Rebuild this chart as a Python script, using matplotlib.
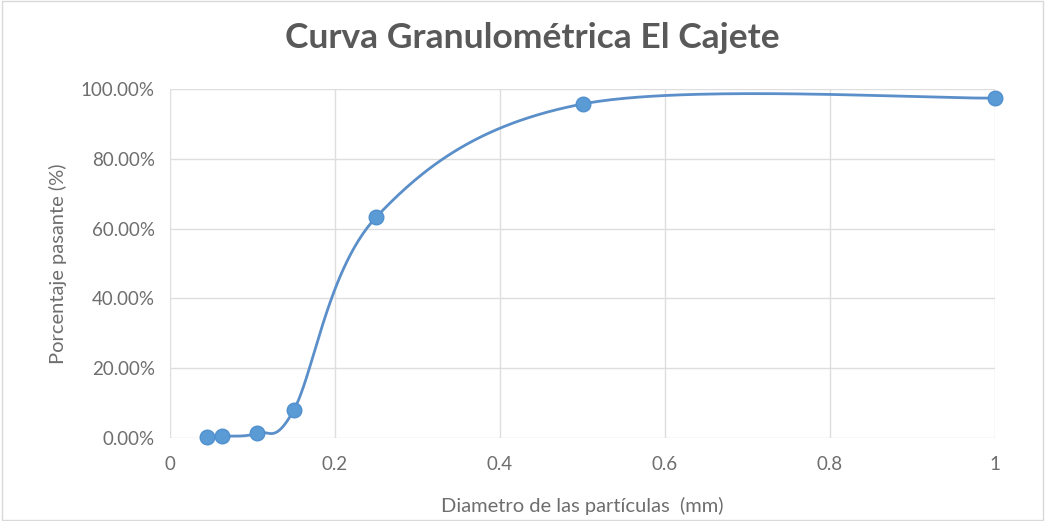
import numpy as np
import matplotlib.pyplot as plt
from matplotlib.ticker import PercentFormatter
from matplotlib.patches import Rectangle

# Sieve openings (mm) and cumulative percent passing
diametro = [0.045, 0.063, 0.106, 0.15, 0.25, 0.5, 1.0]
pasante = [0.003, 0.005, 0.014, 0.08, 0.633, 0.957, 0.974]

x_ticks = [0, 0.2, 0.4, 0.6, 0.8, 1]
x_tick_labels = ['0', '0.2', '0.4', '0.6', '0.8', '1']
y_ticks = [0, 0.2, 0.4, 0.6, 0.8, 1.0]


def smooth_line(xs, ys, n=60):
    # spreadsheet-style smoothed line: cubic Bezier segments with
    # control points taken from the neighbouring points
    pts = np.column_stack([xs, ys]).astype(float)
    out = []
    for i in range(len(pts) - 1):
        p0 = pts[i - 1] if i > 0 else pts[i]
        p1, p2 = pts[i], pts[i + 1]
        p3 = pts[i + 2] if i + 2 < len(pts) else pts[i + 1]
        c1 = p1 + (p2 - p0) / 6
        c2 = p2 - (p3 - p1) / 6
        t = np.linspace(0, 1, n)[:, None]
        seg = ((1 - t) ** 3) * p1 + 3 * ((1 - t) ** 2) * t * c1 \
            + 3 * (1 - t) * t ** 2 * c2 + t ** 3 * p2
        out.append(seg)
    curve = np.vstack(out)
    return curve[:, 0], curve[:, 1]


plt.rcParams['font.family'] = ['Lato', 'DejaVu Sans']

fig = plt.figure(figsize=(10.45, 5.21), dpi=100)
fig.patches.append(Rectangle((0.002, 0.002), 0.996, 0.996, transform=fig.transFigure,
                             fill=False, edgecolor='#D9D9D9', linewidth=1))
ax = fig.add_axes([0.1627, 0.1593, 0.7895, 0.6699])

cx, cy = smooth_line(diametro, pasante)
ax.plot(cx, cy, color='#5B8FC9', linewidth=2, clip_on=False, zorder=3)
ax.plot(diametro, pasante, linestyle='none', marker='o', markersize=10.5,
        color='#5B9BD5', markeredgecolor='#5090CE', clip_on=False, zorder=4)

ax.set_xlim(0, 1)
ax.set_ylim(0, 1)
ax.set_xticks(x_ticks)
ax.set_xticklabels(x_tick_labels)
ax.set_yticks(y_ticks)
ax.yaxis.set_major_formatter(PercentFormatter(xmax=1, decimals=2))
ax.grid(True, color='#DEDEDE', linewidth=1)
ax.set_axisbelow(True)
for s in ax.spines.values():
    s.set_visible(False)
ax.tick_params(length=0, labelsize=13.5, colors='#6E6E6E')
ax.tick_params(axis='y', pad=11)
ax.tick_params(axis='x', pad=13)

fig.text(0.509, 0.927, 'Curva Granulométrica El Cajete', fontsize=25.5,
         fontweight='bold', color='#595959', ha='center', va='center')
ax.set_xlabel('Diametro de las partículas  (mm)', fontsize=14.5, color='#6E6E6E', labelpad=17)
ax.set_ylabel('Porcentaje pasante (%)', fontsize=14.5, color='#6E6E6E', labelpad=10)

fig.savefig('out.png', dpi=100)
